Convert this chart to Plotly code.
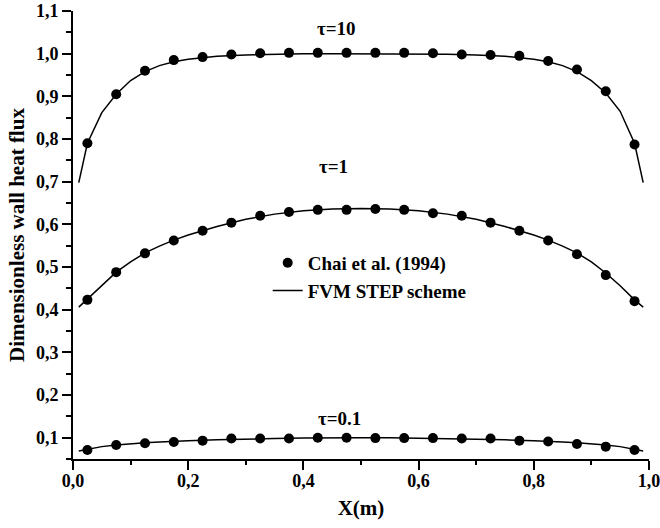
import plotly.graph_objects as go

# Reference data points (Chai et al., 1994)
x_ref = [0.025, 0.075, 0.125, 0.175, 0.225, 0.275, 0.325, 0.375, 0.425, 0.475,
         0.525, 0.575, 0.625, 0.675, 0.725, 0.775, 0.825, 0.875, 0.925, 0.975]
ref_tau10 = [0.790, 0.905, 0.960, 0.985, 0.992, 0.998, 1.001, 1.002, 1.002, 1.002,
             1.002, 1.002, 1.001, 0.998, 0.997, 0.995, 0.983, 0.963, 0.912, 0.787]
ref_tau1 = [0.423, 0.488, 0.532, 0.562, 0.585, 0.604, 0.620, 0.629, 0.634, 0.634,
            0.636, 0.634, 0.626, 0.620, 0.604, 0.585, 0.562, 0.530, 0.481, 0.420]
ref_tau01 = [0.071, 0.083, 0.087, 0.090, 0.093, 0.098, 0.098, 0.098, 0.100, 0.100,
             0.099, 0.099, 0.099, 0.098, 0.098, 0.093, 0.091, 0.085, 0.079, 0.071]

# FVM STEP scheme solution
x_fvm = [0.01, 0.025, 0.05, 0.075, 0.1, 0.125, 0.15, 0.175, 0.2, 0.25, 0.3, 0.35,
         0.4, 0.45, 0.5, 0.55, 0.6, 0.65, 0.7, 0.75, 0.8, 0.825, 0.85, 0.875,
         0.9, 0.925, 0.95, 0.975, 0.99]
fvm_tau10 = [0.698, 0.790, 0.862, 0.905, 0.937, 0.958, 0.972, 0.981, 0.987, 0.994,
             0.997, 0.999, 1.000, 1.000, 1.000, 1.000, 1.000, 0.999, 0.997, 0.994,
             0.987, 0.981, 0.972, 0.958, 0.937, 0.908, 0.865, 0.790, 0.698]
fvm_tau1 = [0.406, 0.425, 0.458, 0.488, 0.512, 0.533, 0.549, 0.563, 0.575, 0.595,
            0.612, 0.624, 0.632, 0.636, 0.637, 0.636, 0.632, 0.624, 0.612, 0.595,
            0.575, 0.563, 0.549, 0.533, 0.512, 0.486, 0.456, 0.423, 0.406]
fvm_tau01 = [0.069, 0.073, 0.079, 0.083, 0.086, 0.088, 0.090, 0.092, 0.093, 0.095,
             0.097, 0.098, 0.099, 0.100, 0.100, 0.100, 0.099, 0.098, 0.097, 0.095,
             0.093, 0.092, 0.090, 0.088, 0.086, 0.083, 0.079, 0.073, 0.069]

# Curve labels: (text, x, y)
curve_labels = [("τ=10", 0.457, 1.058), ("τ=1", 0.452, 0.735), ("τ=0.1", 0.463, 0.146)]


def serif(size):
    return dict(family="Liberation Serif", size=size, color="black", weight="bold")


fig = go.Figure()

for i, ys in enumerate([fvm_tau10, fvm_tau1, fvm_tau01]):
    fig.add_trace(go.Scatter(
        x=x_fvm, y=ys, mode="lines", name="FVM STEP scheme",
        line=dict(color="black", width=1.5),
        showlegend=(i == 0), legendrank=2))

for i, ys in enumerate([ref_tau10, ref_tau1, ref_tau01]):
    fig.add_trace(go.Scatter(
        x=x_ref, y=ys, mode="markers", name="Chai et al. (1994)",
        marker=dict(color="black", size=10),
        showlegend=(i == 0), legendrank=1))

for text, xx, yy in curve_labels:
    fig.add_annotation(x=xx, y=yy, text=text, showarrow=False, font=serif(19))

axis_common = dict(
    showline=True, linecolor="black", linewidth=2, mirror=False,
    ticks="outside", tickcolor="black", tickwidth=1.5, ticklen=9,
    showgrid=False, zeroline=False, tickformat=".1f",
    tickfont=serif(18), automargin=False, ticklabeloverflow="allow",
)

fig.update_xaxes(
    **axis_common, range=[0, 1.0001], tick0=0, dtick=0.2, ticklabelstandoff=-5,
    minor=dict(ticks="outside", dtick=0.1, ticklen=4, tickcolor="black", tickwidth=1.5),
    title=dict(text="X(m)", font=serif(21), standoff=11),
)
fig.update_yaxes(
    **axis_common, range=[0.05, 1.1001], tick0=0.1, dtick=0.1,
    minor=dict(ticks="outside", tick0=0.05, dtick=0.1, ticklen=5, tickcolor="black", tickwidth=1.5),
    title=dict(text="Dimensionless wall heat flux", font=serif(21), standoff=6),
)

fig.update_layout(
    width=660, height=528,
    margin=dict(l=73, r=11, t=11, b=69),
    plot_bgcolor="white", paper_bgcolor="white",
    separators=", ",
    legend=dict(x=0.338, y=0.48, xanchor="left", yanchor="top",
                bgcolor="rgba(0,0,0,0)", borderwidth=0, tracegroupgap=0,
                font=serif(19)),
)

fig.write_html("out.html")
